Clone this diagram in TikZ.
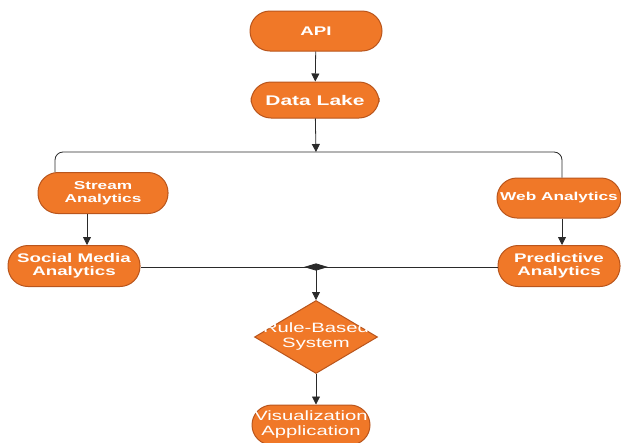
\documentclass[tikz,border=0pt]{standalone}
\usepackage{fontspec}
\usetikzlibrary{shapes.geometric,arrows.meta}
\newfontfamily\labfont{Liberation Sans}[FakeStretch=1.5]
\definecolor{boxfill}{HTML}{F07828}
\definecolor{boxline}{HTML}{B9551C}
\definecolor{wireclr}{HTML}{2A2A2A}
\tikzset{
  stadium/.style={rectangle, rounded corners=20pt, draw=boxline, line width=1pt, fill=boxfill,
    text=white, inner sep=0pt, align=center, font=\labfont\bfseries\fontsize{12.5}{13}\selectfont},
  plainlab/.style={text=white, align=center, inner sep=0pt, font=\labfont\fontsize{13.5}{15}\selectfont},
  rulebox/.style={diamond, draw=boxline, line width=1pt, fill=boxfill, inner sep=0pt},
  wire/.style={draw=wireclr, line width=0.8pt},
  arr/.style={wire, -{Triangle[length=8pt,width=8pt]}},
  meetarr/.style={wire, -{Triangle[length=12pt,width=7pt]}}
}
\begin{document}
\begin{tikzpicture}[x=1pt,y=-1pt]
\useasboundingbox (0,0) rectangle (621,442);
\node[stadium, minimum width=132pt, minimum height=40pt] (api) at (316,31) {API};
\node[stadium, minimum width=128pt, minimum height=36pt, font=\labfont\bfseries\fontsize{14}{15}\selectfont] (dl) at (315,100) {Data Lake};
\node[stadium, minimum width=130pt, minimum height=41pt, font=\labfont\bfseries\fontsize{11.5}{13}\selectfont] (sa) at (103,193) {Stream\\Analytics};
\node[stadium, minimum width=124pt, minimum height=40pt, font=\labfont\bfseries\fontsize{11.5}{13}\selectfont] (wa) at (559,198) {Web Analytics};
\node[stadium, minimum width=132pt, minimum height=41pt] (sm) at (74,266) {Social Media\\Analytics};
\node[stadium, minimum width=122pt, minimum height=41pt] (pa) at (559,266) {Predictive\\Analytics};
\node[rulebox, minimum width=123pt, minimum height=73pt] (rb) at (316,337) {};
\node[plainlab] (rbt) at (rb) {Rule-Based\\System};
\node[stadium, minimum width=118pt, minimum height=40pt, font=\labfont\fontsize{13.5}{15}\selectfont] (va) at (311,425) {Visualization\\Application};
\coordinate (split) at (316,152);
\coordinate (leftdrop) at (55,152);
\coordinate (rightdrop) at (562,152);
\coordinate (meet) at (316,267);
\coordinate (mL) at (328,267);
\coordinate (mR) at (304,267);
\draw[arr] (api) -- (dl);
\draw[arr] (dl) -- (split);
\draw[wire, rounded corners=8pt] (sa.north -| leftdrop) -- (leftdrop) -- (rightdrop) -- (wa.north -| rightdrop);
\draw[arr] ([xshift=-16pt]sa.south) -- ([xshift=-16pt]sa.south |- sm.north);
\draw[arr] ([xshift=3pt]wa.south) -- ([xshift=3pt]wa.south |- pa.north);
\draw[meetarr] (sm.east |- meet) -- (mL);
\draw[meetarr] (pa.west |- meet) -- (mR);
\draw[arr] (meet) -- (rb.north);
\draw[arr] (rb.south) -- (rb.south |- va.north);
\end{tikzpicture}
\end{document}
